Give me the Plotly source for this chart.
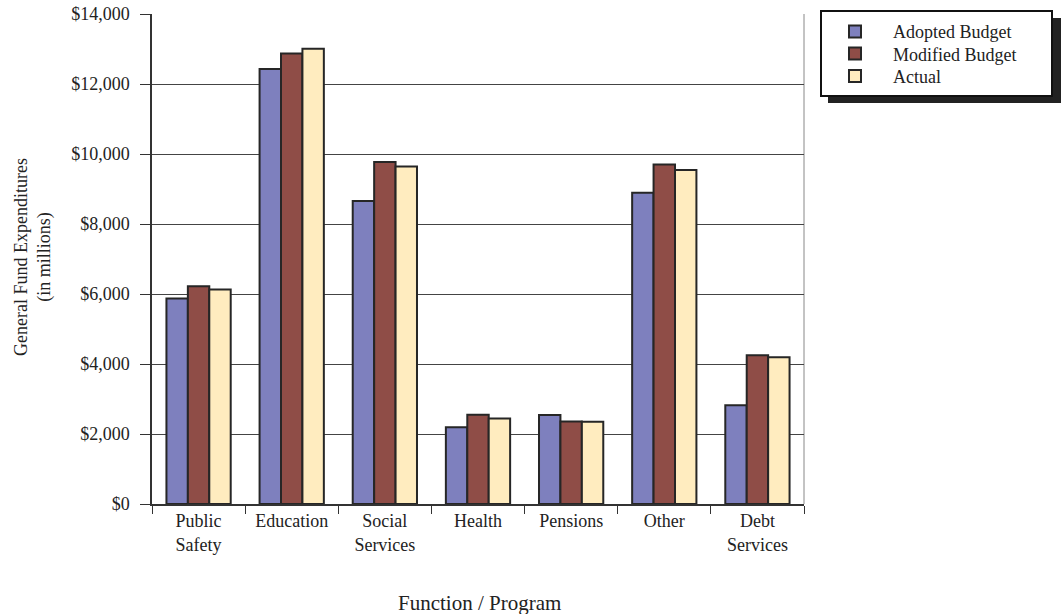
import plotly.graph_objects as go

categories = ["Public<br>Safety", "Education", "Social<br>Services", "Health",
              "Pensions", "Other", "Debt<br>Services"]
adopted = [5870, 12430, 8660, 2190, 2540, 8890, 2820]
modified = [6220, 12870, 9770, 2550, 2360, 9700, 4250]
actual = [6130, 13010, 9640, 2440, 2350, 9540, 4190]

series_names = ["Adopted Budget", "Modified Budget", "Actual"]
series_colors = ["#7E80BE", "#8F4D47", "#FFECBF"]

y_ticks = [0, 2000, 4000, 6000, 8000, 10000, 12000, 14000]
y_tick_text = ["$0", "$2,000", "$4,000", "$6,000", "$8,000", "$10,000", "$12,000", "$14,000"]

FONT = "Liberation Serif"
W, H = 1061, 614
# plot area in page coordinates: x 152..804, y 14..504
L, T = 152, 14
PW, PH = 652, 490
R = W - L - PW
B = H - T - PH

def rx(px):  # page px -> paper x
    return (px - L) / PW

def ry(py):  # page px -> paper y
    return (T + PH - py) / PH

legend_ids = ["legend", "legend2", "legend3"]
row_centers = [31.7, 53.8, 76.2]

fig = go.Figure()
for name, vals, col, lid in zip(series_names, [adopted, modified, actual], series_colors, legend_ids):
    fig.add_trace(go.Bar(
        x=categories, y=vals, name=name, legend=lid,
        marker=dict(color=col, line=dict(color="#262626", width=2)),
    ))

# legend frame with shadow
fig.add_shape(type="rect", xref="paper", yref="paper",
              x0=rx(828), x1=rx(1061), y0=ry(103), y1=ry(18),
              fillcolor="#222222", line=dict(width=0), layer="above")
fig.add_shape(type="rect", xref="paper", yref="paper",
              x0=rx(821), x1=rx(1052), y0=ry(96), y1=ry(11),
              fillcolor="white", line=dict(color="#111111", width=2), layer="above")
# right border
fig.add_shape(type="line", xref="paper", yref="paper", x0=1, x1=1, y0=0, y1=1,
              line=dict(color="#888888", width=1), layer="below")

fig.add_annotation(text="Function / Program", xref="paper", yref="paper",
                   x=rx(479), y=ry(617), xanchor="center", yanchor="bottom",
                   showarrow=False, font=dict(family=FONT, size=21, color="#222"))
fig.add_annotation(text="General Fund Expenditures<br>(in millions)", xref="paper", yref="paper",
                   x=rx(33), y=ry(257), xanchor="center", yanchor="middle",
                   textangle=-90, showarrow=False,
                   font=dict(family=FONT, size=18, color="#222"))

legend_common = dict(xanchor="left", yanchor="top", bgcolor="rgba(0,0,0,0)", borderwidth=0,
                     font=dict(family=FONT, size=18, color="#222"), itemwidth=66)
layout_legends = {}
for lid, yc in zip(legend_ids, row_centers):
    layout_legends[lid] = dict(x=rx(855 - 38), y=ry(yc - 18.5), **legend_common)

fig.update_layout(
    width=W, height=H,
    margin=dict(l=L, r=R, t=T, b=B, autoexpand=False),
    paper_bgcolor="white", plot_bgcolor="white",
    font=dict(family=FONT, size=18, color="#222"),
    barmode="group", bargap=0.31, bargroupgap=0,
    showlegend=True,
    **layout_legends,
)
fig.update_xaxes(showline=True, linecolor="#333", linewidth=1.5,
                 ticks="outside", tickson="boundaries", ticklen=8, tickcolor="#333",
                 tickfont=dict(family=FONT, size=18, color="#222"), showgrid=False)
fig.update_yaxes(range=[0, 14000], tickvals=y_ticks, ticktext=y_tick_text,
                 showline=True, linecolor="#333", linewidth=1.5,
                 ticks="outside", ticklen=10, tickcolor="#333", ticklabelstandoff=7,
                 ticklabeloverflow="allow",
                 showgrid=True, gridcolor="#444", gridwidth=1,
                 tickfont=dict(family=FONT, size=18, color="#222"), zeroline=False)

fig.write_html("out.html", config={"displayModeBar": False},
               post_script="document.body.style.margin='0px';")
